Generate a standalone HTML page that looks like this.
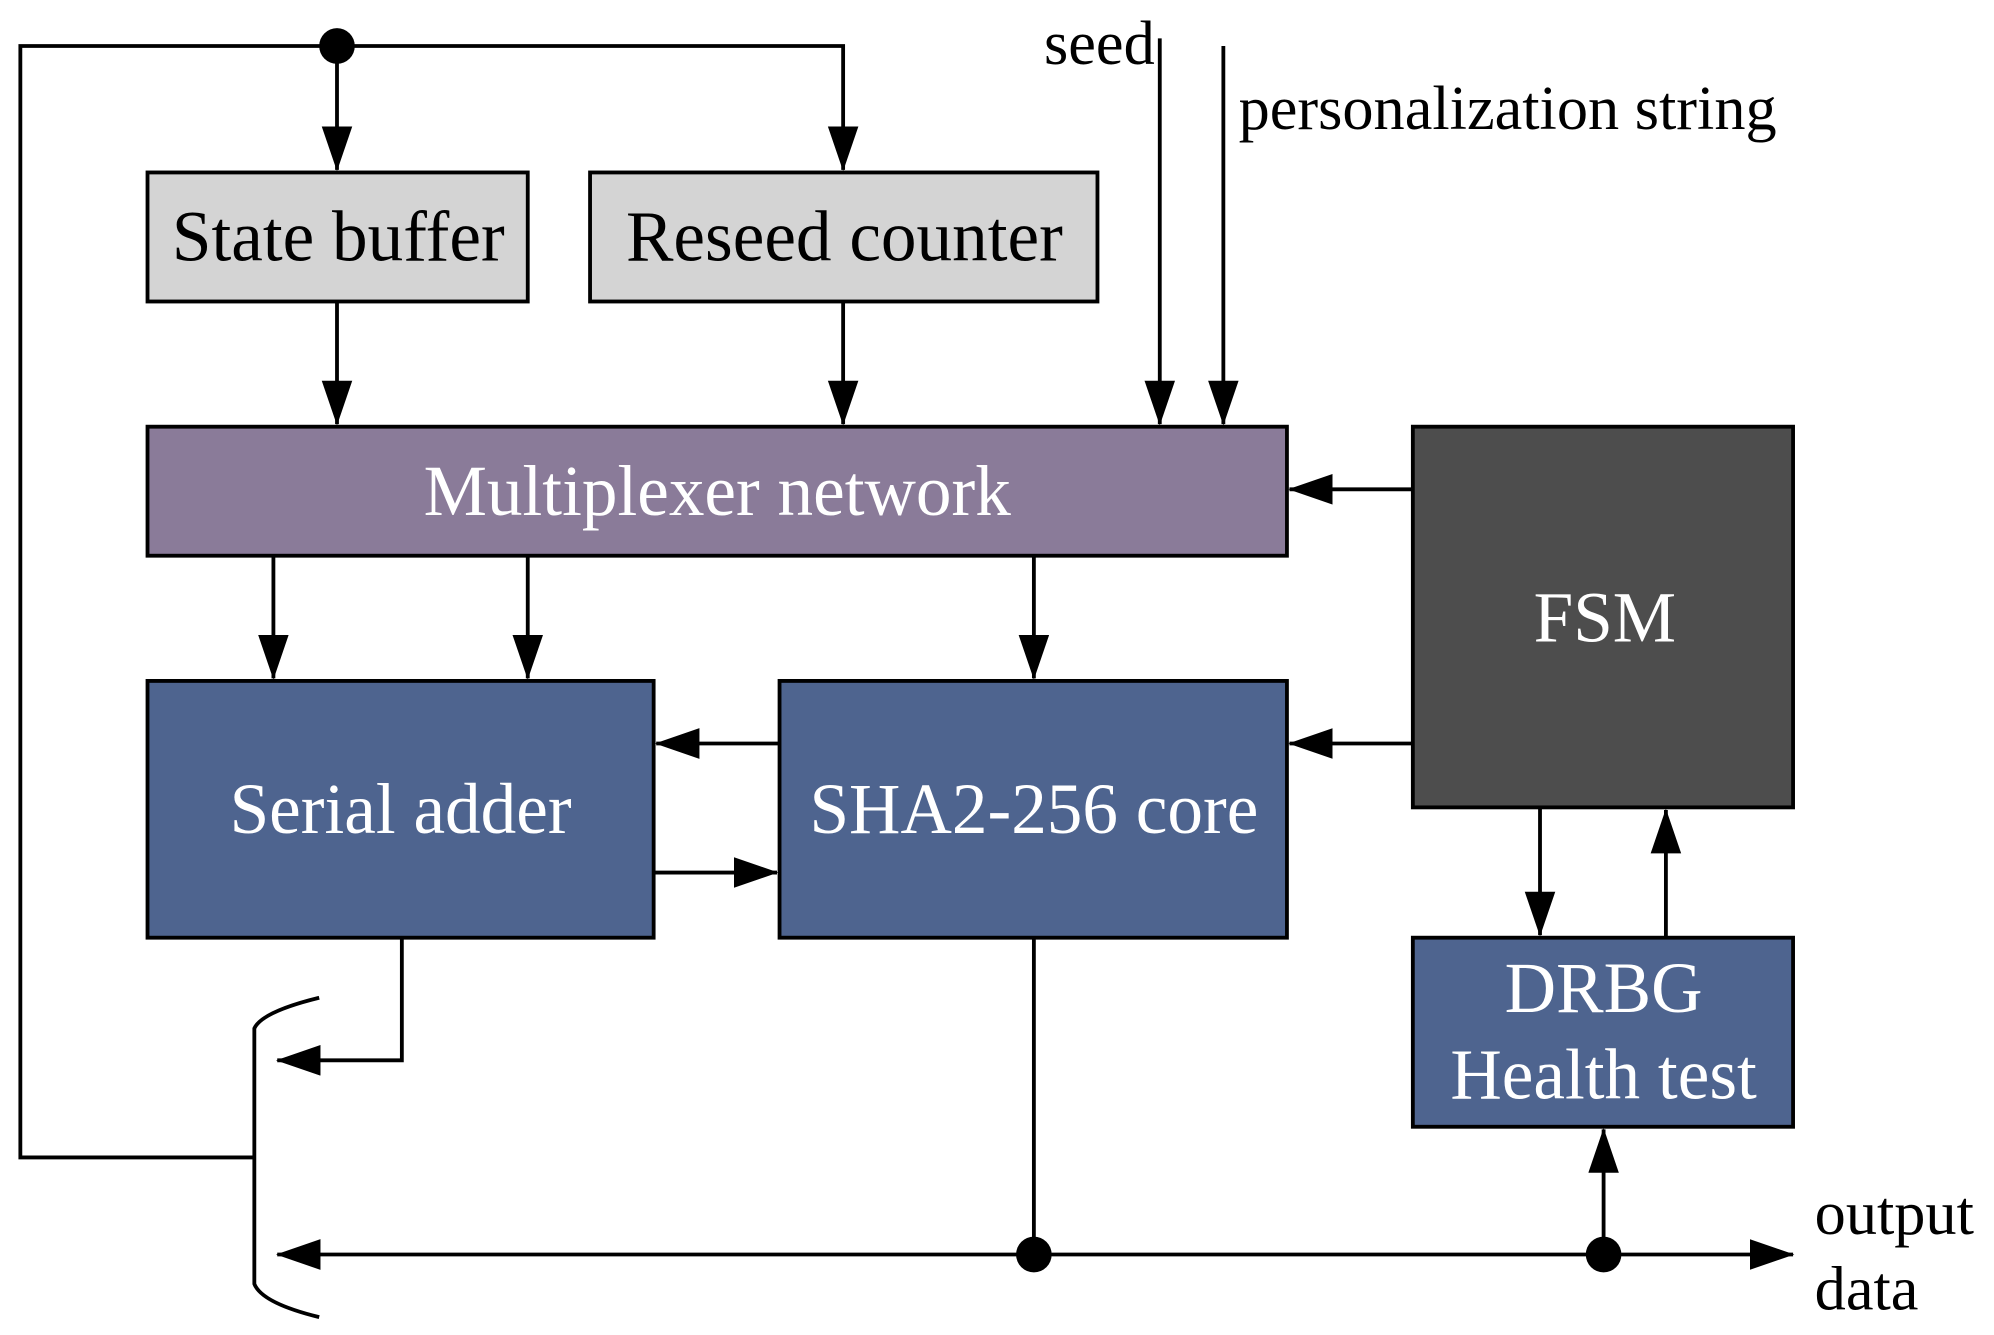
<!DOCTYPE html>
<html><head><meta charset="utf-8"><style>html,body{margin:0;padding:0;background:#fff}svg{display:block}</style></head>
<body>
<svg width="1994" height="1335" viewBox="0 0 1568 1045" preserveAspectRatio="none" xmlns="http://www.w3.org/2000/svg" font-family="Liberation Serif, serif">
<defs>
<marker id="a" markerWidth="36" markerHeight="26" refX="34" refY="12" orient="auto" markerUnits="userSpaceOnUse">
<path d="M0,0 L35,12 L0,24 z" fill="#000"/></marker>
</defs>
<g stroke="#000" stroke-width="3">
<rect x="116" y="135" width="299" height="101" fill="#d4d4d4"/>
<rect x="464" y="135" width="399" height="101" fill="#d4d4d4"/>
<rect x="116" y="334" width="896" height="101" fill="#8a7b99"/>
<rect x="1111" y="334" width="299" height="298" fill="#4d4d4d"/>
<rect x="116" y="533" width="398" height="201" fill="#4e648f"/>
<rect x="613" y="533" width="399" height="201" fill="#4e648f"/>
<rect x="1111" y="734" width="299" height="148" fill="#4e648f"/>
</g>
<g stroke="#000" stroke-width="3" fill="none">
<polyline points="200,906 16,906 16,36 663,36 663,133" marker-end="url(#a)"/>
<line x1="265" y1="36" x2="265" y2="133" marker-end="url(#a)"/>
<line x1="265" y1="236" x2="265" y2="332" marker-end="url(#a)"/>
<line x1="663" y1="236" x2="663" y2="332" marker-end="url(#a)"/>
<line x1="912" y1="30" x2="912" y2="332" marker-end="url(#a)"/>
<line x1="962" y1="36" x2="962" y2="332" marker-end="url(#a)"/>
<line x1="215" y1="435" x2="215" y2="531" marker-end="url(#a)"/>
<line x1="415" y1="435" x2="415" y2="531" marker-end="url(#a)"/>
<line x1="813" y1="435" x2="813" y2="531" marker-end="url(#a)"/>
<line x1="1111" y1="383" x2="1014" y2="383" marker-end="url(#a)"/>
<line x1="1111" y1="582" x2="1014" y2="582" marker-end="url(#a)"/>
<line x1="613" y1="582" x2="516" y2="582" marker-end="url(#a)"/>
<line x1="514" y1="683" x2="611" y2="683" marker-end="url(#a)"/>
<line x1="1211" y1="632" x2="1211" y2="732" marker-end="url(#a)"/>
<line x1="1310" y1="734" x2="1310" y2="634" marker-end="url(#a)"/>
<polyline points="316,734 316,830 218,830" marker-end="url(#a)"/>
<line x1="813" y1="734" x2="813" y2="982"/>
<line x1="813" y1="982" x2="218" y2="982" marker-end="url(#a)"/>
<line x1="813" y1="982" x2="1410" y2="982" marker-end="url(#a)"/>
<line x1="1261" y1="982" x2="1261" y2="884" marker-end="url(#a)"/>
<path d="M251,781 Q206,792 200,805 L200,1005 Q206,1020 251,1031"/>
</g>
<g fill="#000"><circle cx="265" cy="36" r="14"/><circle cx="813" cy="982" r="14"/><circle cx="1261" cy="982" r="14"/></g>
<g font-size="56" text-anchor="middle">
<text x="266" y="204" fill="#000">State buffer</text>
<text x="664" y="204" fill="#000">Reseed counter</text>
<text x="564" y="403" fill="#fff">Multiplexer network</text>
<text x="1262" y="502" fill="#fff">FSM</text>
<text x="315" y="652" fill="#fff">Serial adder</text>
<text x="813" y="652" fill="#fff">SHA2-256 core</text>
<text x="1261" y="792" fill="#fff">DRBG</text>
<text x="1261" y="860" fill="#fff">Health test</text>
</g>
<g font-size="49" fill="#000">
<text x="821" y="50">seed</text>
<text x="974" y="101">personalization string</text>
<text x="1427" y="966">output</text>
<text x="1427" y="1025">data</text>
</g>
</svg>
</body></html>
